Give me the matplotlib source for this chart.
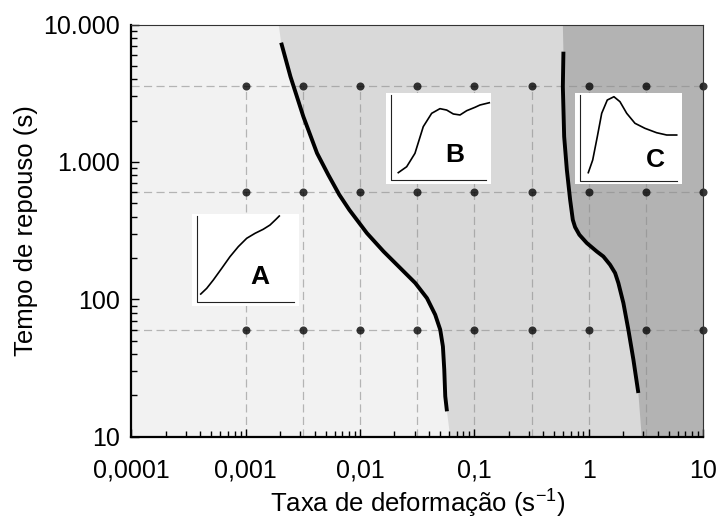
import matplotlib
matplotlib.use('Agg')
import matplotlib.pyplot as plt
import numpy as np

plt.rcParams['font.family'] = ['Liberation Sans', 'DejaVu Sans']

# transition curves (strain rate, rest time)
curve_ab_x = [0.00204, 0.00246, 0.00319, 0.00420, 0.00527, 0.00658, 0.00805, 0.00965, 0.01148, 0.01605,
              0.02244, 0.03038, 0.03846, 0.04539, 0.05025, 0.05303, 0.05450, 0.05559, 0.05754]
curve_ab_y = [7386, 4181, 2138, 1159, 806, 577, 448, 367, 303, 223,
              169, 131.5, 102, 77.3, 60.1, 45.4, 30.8, 19.7, 15.3]
curve_bc_x = [0.601, 0.594, 0.610, 0.644, 0.688, 0.726, 0.760, 0.829, 0.963, 1.177,
              1.344, 1.538, 1.702, 1.818, 2.011, 2.223, 2.460, 2.719]
curve_bc_y = [6350, 3535, 1530, 876, 530, 379, 335.5, 295, 256.8, 223,
              205, 178.5, 155.4, 131.4, 94, 60.1, 36.4, 20.8]

# where the region boundaries meet the top and bottom of the frame
edge_ab = [(0.00194, 10000), (0.0614, 10)]
edge_bc = [(0.594, 10000), (2.91, 10)]

# rest times of 1 min, 10 min, 1 h and half-decade strain rates
grid_y = [60, 600, 3600]
grid_x = [0.001, 0.00316, 0.01, 0.0316, 0.1, 0.316, 1, 3.16, 10]

x_ticks = [0.0001, 0.001, 0.01, 0.1, 1, 10]
x_labels = ['0,0001', '0,001', '0,01', '0,1', '1', '10']
y_ticks = [10, 100, 1000, 10000]
y_labels = ['10', '100', '1.000', '10.000']

# sketches of the three behaviour types (normalised)
sketch_a_u = [0.079, 0.135, 0.197, 0.276, 0.353, 0.431, 0.510, 0.588, 0.665, 0.728, 0.784, 0.815]
sketch_a_v = [0.130, 0.192, 0.283, 0.410, 0.536, 0.645, 0.736, 0.790, 0.834, 0.880, 0.942, 0.978]
sketch_b_u = [0.117, 0.197, 0.276, 0.355, 0.435, 0.514, 0.578, 0.641, 0.705, 0.769, 0.848, 0.895, 0.984]
sketch_b_v = [0.124, 0.189, 0.336, 0.628, 0.774, 0.825, 0.810, 0.767, 0.756, 0.803, 0.840, 0.865, 0.890]
sketch_c_u = [0.124, 0.165, 0.208, 0.249, 0.301, 0.363, 0.419, 0.482, 0.559, 0.652, 0.761, 0.855, 0.948]
sketch_c_v = [0.127, 0.265, 0.520, 0.775, 0.920, 0.956, 0.902, 0.775, 0.666, 0.611, 0.563, 0.538, 0.538]

fig = plt.figure(figsize=(7.2, 5.19), dpi=100)
ax = fig.add_axes([0.1826, 0.1586, 0.7938, 0.7940])
ax.set_xscale('log')
ax.set_yscale('log')
ax.set_xlim(1e-4, 10)
ax.set_ylim(10, 10000)

# background regions
ax.set_facecolor('#f2f2f2')
bx = [edge_ab[0][0]] + curve_ab_x + [edge_ab[1][0]]
by = [edge_ab[0][1]] + curve_ab_y + [edge_ab[1][1]]
ax.fill(bx + [10, 10], by + [10, 10000], color='#d9d9d9', lw=0, zorder=0)
cx = [edge_bc[0][0]] + curve_bc_x + [edge_bc[1][0]]
cy = [edge_bc[0][1]] + curve_bc_y + [edge_bc[1][1]]
ax.fill(cx + [10, 10], cy + [10, 10000], color='#b3b3b3', lw=0, zorder=0)

# dashed grid and dots
dash = (0, (6.5, 3.5))
for gy in grid_y:
    ax.plot([1e-4, 10], [gy, gy], ls=dash, color='#8c8c8c', lw=0.9, alpha=0.6, zorder=1)
for gx in grid_x:
    ax.plot([gx, gx], [10, max(grid_y)], ls=dash, color='#8c8c8c', lw=0.9, alpha=0.6, zorder=1)
gxx, gyy = np.meshgrid(grid_x, grid_y)
ax.plot(gxx.ravel(), gyy.ravel(), 'o', color='black', alpha=0.78, ms=5.8, mew=0, zorder=2, clip_on=False)

ax.plot(curve_ab_x, curve_ab_y, color='black', lw=2.8, solid_capstyle='butt',
        solid_joinstyle='round', zorder=3)
ax.plot(curve_bc_x, curve_bc_y, color='black', lw=2.8, solid_capstyle='butt',
        solid_joinstyle='round', zorder=3)

ax.set_xticks(x_ticks, labels=x_labels)
ax.set_yticks(y_ticks, labels=y_labels)
ax.tick_params(which='major', direction='in', length=6, width=1, labelsize=18)
ax.tick_params(which='minor', direction='in', length=4, width=1)
ax.tick_params(axis='x', pad=16)
ax.tick_params(axis='y', pad=8)
for s in ['top', 'right']:
    ax.spines[s].set_linewidth(0.8)
    ax.spines[s].set_color('#333333')
for s in ['left', 'bottom']:
    ax.spines[s].set_linewidth(1.6)
ax.set_xlabel('Taxa de deformação (s$^{\\mathregular{-1}}$)', fontsize=18.5, labelpad=2)
ax.set_ylabel('Tempo de repouso (s)', fontsize=18.5, labelpad=4)


def sketch(rect, u, v, letter, lx, ly):
    ins = fig.add_axes(rect)
    ins.set_xlim(0, 1)
    ins.set_ylim(0, 1)
    ins.set_facecolor('white')
    for s in ins.spines.values():
        s.set_visible(False)
    ins.set_xticks([])
    ins.set_yticks([])
    ins.plot([0.045, 0.045, 0.95], [0.975, 0.04, 0.04], color='#222222', lw=0.8)
    ins.plot(u, v, color='black', lw=1.2)
    ins.text(lx, ly, letter, fontsize=19, fontweight='bold', ha='center', va='center')


sketch([0.2671, 0.4104, 0.1482, 0.1773], sketch_a_u, sketch_a_v, 'A', 0.637, 0.318)
sketch([0.5361, 0.6455, 0.1458, 0.1759], sketch_b_u, sketch_b_v, 'B', 0.657, 0.317)
sketch([0.7986, 0.6449, 0.1490, 0.1765], sketch_c_u, sketch_c_v, 'C', 0.746, 0.265)

fig.savefig('out.png', dpi=100)
